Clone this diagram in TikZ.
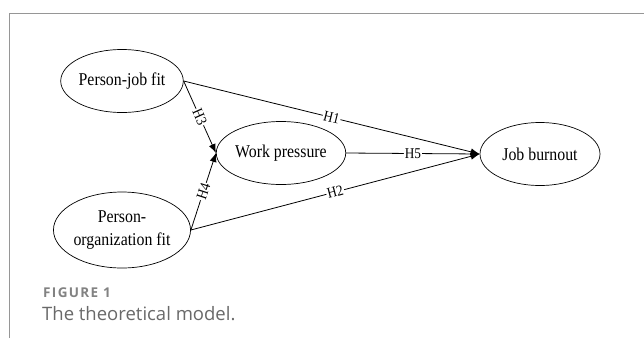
\documentclass[tikz,border=0pt]{standalone}
\usepackage{fontspec}
\usepackage{xcolor}
\usepackage{tikz}
\usetikzlibrary{shapes.geometric}
\usetikzlibrary{arrows.meta}
\newfontfamily\modellfont[FakeStretch=0.88]{Liberation Serif}
\newfontfamily\captionfont{Open Sans}
\newfontfamily\figfont[LetterSpace=10]{Open Sans}
\definecolor{rahmengrau}{RGB}{150,150,150}
\definecolor{figgrau}{RGB}{130,130,130}
\definecolor{textgrau}{RGB}{105,105,105}
\tikzset{
  Variable/.style={draw, ellipse, line width=0.7pt, inner sep=0pt,
    minimum width=120pt, minimum height=63pt, align=center}, % Konstrukte
  Pfeil/.style={line width=0.8pt,->}, % Pfade
  Hyp/.style={fill=white, sloped, inner sep=1pt,
    font=\modellfont\fontsize{15}{15}\selectfont} % Hypothesen
}

\begin{document}
\begin{tikzpicture}[
x=1pt, y=-1pt,
font=\modellfont\fontsize{18}{23}\selectfont,
>={Latex[length=9pt,width=7pt]} % Pfeilspitzen
]
\useasboundingbox (0,0) rectangle (644,338);

%Rahmen
\coordinate (r1) at (9.5,338);
\coordinate (r2) at (9.5,13.5);
\coordinate (r3) at (644,13.5);
\draw[rahmengrau, line width=1.2pt] (r1) -- (r2) -- (r3);

%Konstrukte
\node[Variable] (pj) at (122,81) {Person-job fit};
\node[Variable, minimum height=76pt] (pof) at (122,230) {Person-\\organization fit};
\node[Variable] (wp) at (281,153) {Work pressure};
\node[Variable] (jb) at (540,154) {Job burnout};

%Pfade
\draw[Pfeil] (pj.east) -- node[Hyp]{H1} (jb.west);
\draw[Pfeil] (pof.east) -- node[Hyp]{H2} (jb.west);
\draw[Pfeil] (pj.east) -- node[Hyp]{H3} (wp.west);
\draw[Pfeil] (pof.east) -- node[Hyp]{H4} (wp.west);
\draw[Pfeil] (wp.east) -- node[Hyp]{H5} (jb.west);

%Beschriftung
\node[anchor=base west, inner sep=0pt, text=figgrau,
  font=\figfont\bfseries\fontsize{13.5}{15}\selectfont] (fig) at (43,297) {FIGURE 1};
\node[anchor=base west, inner sep=0pt, text=textgrau,
  font=\captionfont\fontsize{18.5}{21}\selectfont] (cap) at (42,320) {The theoretical model.};

\end{tikzpicture}
\end{document}
